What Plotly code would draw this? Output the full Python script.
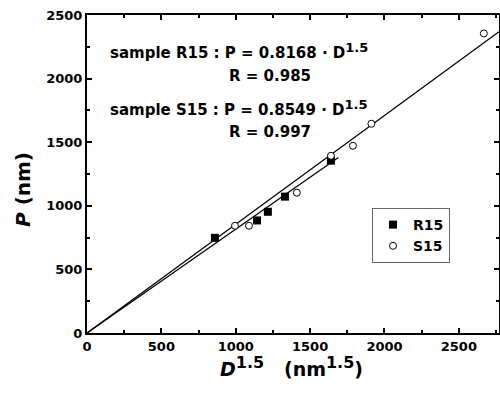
import plotly.graph_objects as go

# Data
r15_x = [860, 1143, 1216, 1331, 1640]
r15_y = [748, 885, 953, 1072, 1355]
s15_x = [995, 1089, 1411, 1640, 1788, 1912, 2668]
s15_y = [843, 843, 1103, 1393, 1472, 1645, 2355]

# Fit lines P = k * D^1.5
fit_r15_k = 0.8168
fit_s15_k = 0.8549
fit_r15_x = [0, 1690]
fit_s15_x = [0, 2770]

x_ticks = [0, 500, 1000, 1500, 2000, 2500]
y_ticks = [0, 500, 1000, 1500, 2000, 2500]

FONT = "DejaVu Sans, sans-serif"

fig = go.Figure()
fig.add_trace(go.Scatter(x=fit_s15_x, y=[fit_s15_k * v for v in fit_s15_x], mode="lines",
                         line=dict(color="black", width=1.3), showlegend=False, hoverinfo="skip"))
fig.add_trace(go.Scatter(x=fit_r15_x, y=[fit_r15_k * v for v in fit_r15_x], mode="lines",
                         line=dict(color="black", width=1.3), showlegend=False, hoverinfo="skip"))
fig.add_trace(go.Scatter(x=r15_x, y=r15_y, mode="markers", name="<b>R15</b>",
                         marker=dict(symbol="square", size=8, color="black")))
fig.add_trace(go.Scatter(x=s15_x, y=s15_y, mode="markers", name="<b>S15</b>",
                         marker=dict(symbol="circle", size=7, color="white",
                                     line=dict(color="black", width=1))))

axis_common = dict(showline=True, linewidth=2, linecolor="black", mirror="allticks",
                   ticks="inside", ticklen=5, tickwidth=1.5, tickcolor="black",
                   showgrid=False, zeroline=False, automargin=False,
                   ticklabeloverflow="allow",
                   tickfont=dict(family=FONT, size=13, color="black", weight="bold"),
                   minor=dict(ticks="inside", ticklen=3, tickwidth=1.5, dtick=250, tickcolor="black"))

fig.update_xaxes(range=[0, 2770], tickvals=x_ticks, ticktext=[str(v) for v in x_ticks], **axis_common)
fig.update_yaxes(range=[0, 2500], tickvals=y_ticks, ticktext=[str(v) for v in y_ticks], **axis_common)

W, H = 500, 397
L, T = 87, 15
PW, PH = 412, 318


def px(x):
    return (x - L) / PW


def py(y):
    return (T + PH - y) / PH


ann_font = dict(family=FONT, size=15, color="black")
SUP = '<sup><span style="font-size:13px">1.5</span></sup>'
annotations = [
    dict(text="<b>sample R15 : P = 0.8168 · D" + SUP + "</b>", x=px(109), y=py(63)),
    dict(text="<b>R = 0.985</b>", x=px(228), y=py(86)),
    dict(text="<b>sample S15 : P = 0.8549 · D" + SUP + "</b>", x=px(109), y=py(120)),
    dict(text="<b>R = 0.997</b>", x=px(228), y=py(142)),
]
for a in annotations:
    fig.add_annotation(xref="paper", yref="paper", showarrow=False, font=ann_font,
                       xanchor="left", yanchor="bottom", borderpad=0, **a)

# Axis titles
fig.add_annotation(xref="paper", yref="paper", x=px(219), y=py(381),
                   text='<b><i>D</i><sup><span style="font-size:16px">1.5</span></sup>&nbsp;&nbsp;&nbsp;(nm<sup><span style="font-size:16px">1.5</span></sup>)</b>',
                   showarrow=False, xanchor="left", yanchor="bottom", borderpad=0,
                   font=dict(family=FONT, size=19, color="black"))
fig.add_annotation(xref="paper", yref="paper", x=px(23), y=py(190),
                   text="<b><i>P</i> (nm)</b>", showarrow=False, textangle=-90,
                   xanchor="center", yanchor="middle", font=dict(family=FONT, size=20, color="black"))

fig.update_layout(
    width=W, height=H,
    margin=dict(l=L, r=W - L - PW, t=T, b=H - T - PH, autoexpand=False),
    paper_bgcolor="white", plot_bgcolor="white",
    legend=dict(x=px(372), y=py(208), xanchor="left", yanchor="top",
                bordercolor="#666666", borderwidth=1, bgcolor="white",
                font=dict(family=FONT, size=14, color="black"),
                itemwidth=30, tracegroupgap=0),
    showlegend=True,
)

# Remove the browser's default 8px body margin so the figure sits at (0, 0).
fig.write_html("out.html", config={"displayModeBar": False},
               post_script="document.body.style.margin='0';")
